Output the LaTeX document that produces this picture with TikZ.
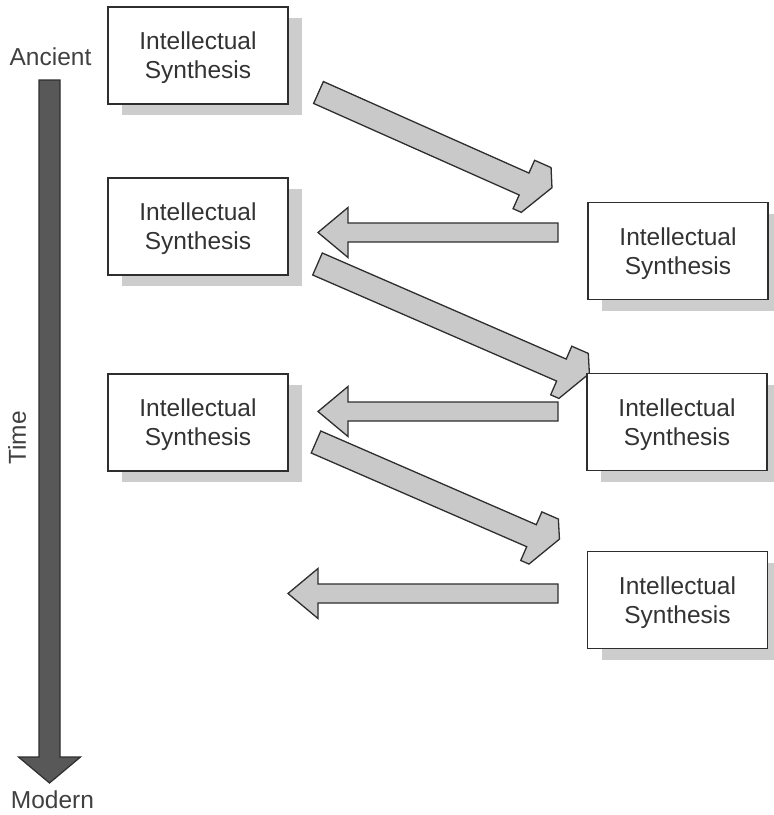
\documentclass[tikz,border=0pt]{standalone}
\usepackage{fontspec}
\setmainfont{Liberation Sans}
\usepackage{tikz}
\usetikzlibrary{shadows}
\usetikzlibrary{calc}

\definecolor{arrowgray}{HTML}{C9C9C9}
\definecolor{timegray}{HTML}{585858}
\definecolor{edgegray}{HTML}{2E2E2E}
\definecolor{shadowgray}{HTML}{CDCDCD}

\tikzset{
	synbox/.style={draw=edgegray, line width=1.8pt, fill=white, minimum width=180pt, minimum height=97pt,
		align=center, text=black!80, font=\fontsize{24.5}{29}\selectfont, text depth=0pt,
		drop shadow={shadow xshift=14pt, shadow yshift=-11pt, fill=shadowgray, opacity=1}},
	blockarrow/.style={draw=edgegray, line width=1.3pt, fill=arrowgray, line join=miter},
	timearrow/.style={draw=edgegray, line width=1.2pt, fill=timegray},
	timelabel/.style={text=black!75, font=\fontsize{24.5}{29}\selectfont, inner sep=0pt}
}

\newcommand{\slantarrow}[3]{%
	\begin{scope}[shift={(#1)}, rotate=#2]
		\draw[blockarrow] (0,-12) -- (#3,-12) -- (#3,-26) -- (#3+18,-26) -- (#3+27,-8) -- (#3+9,27) -- (#3,27) -- (#3,12) -- (0,12) -- cycle;
	\end{scope}}
\newcommand{\backarrow}[2]{%
	\draw[blockarrow] (#1) ++(0,-9.5) -- ++(-#2,0) -- ++(0,-15.5) -- ++(-30,25) -- ++(30,25) -- ++(0,-15.5) -- ++(#2,0) -- cycle;}

\begin{document}
\begin{tikzpicture}[x=1pt, y=-1pt]
			\useasboundingbox (0,0) rectangle (774,815);

			\node[timelabel] (ancient) at (50.5,57) {Ancient};
			\node[timelabel] (modern) at (52.5,800) {Modern};
			\node[timelabel, rotate=90] (time) at (17,438) {Time};
			\coordinate (tstart) at (49.5,80);
			\coordinate (tend) at (49.5,783);
			\draw[timearrow] ([xshift=-10.5pt]tstart) -- ([xshift=-10.5pt, yshift=26pt]tend) -- ([xshift=-31pt, yshift=26pt]tend) -- (tend)
				-- ([xshift=31pt, yshift=26pt]tend) -- ([xshift=10.5pt, yshift=26pt]tend) -- ([xshift=10.5pt]tstart) -- cycle;

			\coordinate (d1) at (318.5,92.5);
			\coordinate (d2) at (317.5,264);
			\coordinate (d3) at (316,442);
			\coordinate (h1) at (558,232.5);
			\coordinate (h2) at (558,411.5);
			\coordinate (h3) at (558,593.5);
			\slantarrow{d1}{-24}{225}
			\slantarrow{d2}{-23.5}{266}
			\slantarrow{d3}{-23.5}{235}
			\backarrow{h1}{210}
			\backarrow{h2}{210}
			\backarrow{h3}{240}

			\node[synbox] (l1) at (198,55.5) {Intellectual\\Synthesis};
			\node[synbox] (l2) at (198,226.5) {Intellectual\\Synthesis};
			\node[synbox] (l3) at (198,422.5) {Intellectual\\Synthesis};
			\node[synbox] (r1) at (678,251) {Intellectual\\Synthesis};
			\node[synbox] (r2) at (677,422) {Intellectual\\Synthesis};
			\node[synbox] (r3) at (677.5,600) {Intellectual\\Synthesis};
		\end{tikzpicture}
\end{document}
